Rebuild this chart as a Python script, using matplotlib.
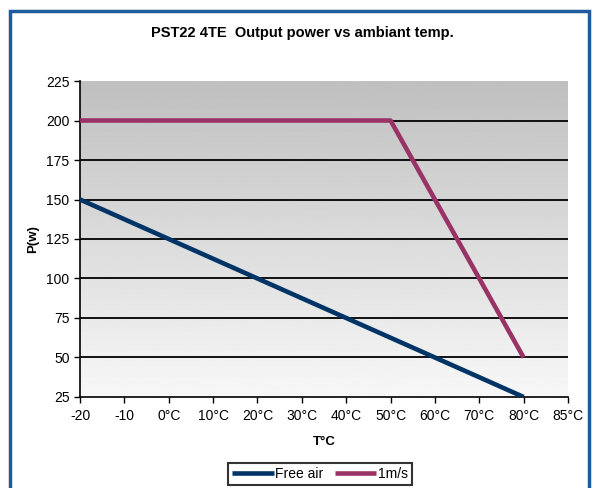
import matplotlib
matplotlib.use("Agg")
import matplotlib.pyplot as plt
import matplotlib.patches as patches
import numpy as np

plt.rcParams['font.family'] = ['Liberation Sans', 'DejaVu Sans']

# categories on the x axis (category axis, evenly spaced)
temps = ['-20', '-10', '0°C', '10°C', '20°C', '30°C', '40°C', '50°C',
         '60°C', '70°C', '80°C', '85°C']
free_air = [150, 137.5, 125, 112.5, 100, 87.5, 75, 62.5, 50, 37.5, 25]
one_ms = [200, 200, 200, 200, 200, 200, 200, 200, 150, 100, 50]
yticks = [25, 50, 75, 100, 125, 150, 175, 200, 225]

fig = plt.figure(figsize=(5.98, 4.88), dpi=100)
ax = fig.add_axes([0.1338, 0.1865, 0.816, 0.6475])

# grey gradient background
grad = np.linspace(0.97, 0.75, 256).reshape(-1, 1)
ax.imshow(grad, cmap='gray', vmin=0, vmax=1, aspect='auto',
          extent=[0, 11, 25, 225], origin='lower', zorder=0)

for y in yticks[1:-1]:
    ax.axhline(y, color='black', lw=1.3, zorder=1)

x1 = np.arange(len(free_air))
x2 = np.arange(len(one_ms))
ax.plot(x1, free_air, color='#003366', lw=3.3, label='Free air', zorder=3,
        solid_capstyle='butt')
ax.plot(x2, one_ms, color='#993366', lw=3.3, label='1m/s', zorder=3,
        solid_capstyle='butt')

ax.set_xlim(0, 11)
ax.set_ylim(25, 225)
ax.set_xticks(range(len(temps)))
ax.set_xticklabels(temps, fontsize=10)
ax.set_yticks(yticks)
ax.tick_params(axis='y', labelsize=10, length=4, width=1, direction='out')
ax.tick_params(axis='x', length=4, width=1, direction='out', pad=5)
for s in ['top', 'right']:
    ax.spines[s].set_visible(False)
for s in ['left', 'bottom']:
    ax.spines[s].set_linewidth(1.2)

ax.set_xlabel('T°C', fontsize=9.5, fontweight='bold', labelpad=9)
ax.set_ylabel('P(w)', fontsize=9.5, fontweight='bold', labelpad=5)
fig.text(0.505, 0.932, 'PST22 4TE  Output power vs ambiant temp.',
         ha='center', va='center', fontsize=10.5, fontweight='bold')

leg = fig.legend(loc='upper center', bbox_to_anchor=(0.535, 0.052), ncol=2,
                 fontsize=10, frameon=True, fancybox=False, handlelength=3.0,
                 columnspacing=0.8, handletextpad=0.1, borderpad=0.3,
                 borderaxespad=0)
leg.get_frame().set_edgecolor('black')
leg.get_frame().set_linewidth(1.5)

# blue frame around the chart
fig.patches.append(patches.Rectangle((0.016, -0.05), 0.969, 1.027,
                                     transform=fig.transFigure, fill=False,
                                     edgecolor='#1e5c9c', lw=2.5))

fig.savefig('out.png', dpi=100)
